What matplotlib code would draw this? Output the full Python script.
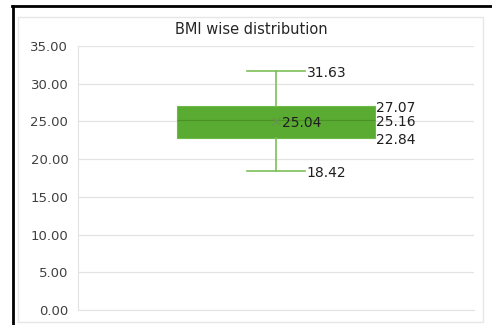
import matplotlib.pyplot as plt
from matplotlib.patches import Rectangle
from matplotlib.lines import Line2D

# BMI summary values
label = "BMI"
whisker_low = 18.42
q1 = 22.84
median = 25.16
q3 = 27.07
whisker_high = 31.63
mean = 25.04

y_ticks = [0, 5, 10, 15, 20, 25, 30, 35]

fig = plt.figure(figsize=(4.92, 3.25), dpi=100)

# outer black frame (top and left) and the light chart-area border
fig.add_artist(Line2D([12/492, 1], [1 - 5.5/325, 1 - 5.5/325], color='black', lw=2, transform=fig.transFigure))
fig.add_artist(Line2D([12.5/492, 12.5/492], [0, 1 - 5.5/325], color='black', lw=2, transform=fig.transFigure))
fig.add_artist(Rectangle((18/492, 3/325), (483-18)/492, (325-17-3)/325, fill=False,
                         edgecolor='#e6e6e6', lw=1, transform=fig.transFigure))

ax = fig.add_axes([78/492, 15/325, (474-78)/492, (310-46)/325])

stats = [dict(label=label, whislo=whisker_low, q1=q1, med=median, q3=q3,
              whishi=whisker_high, mean=mean, fliers=[])]
ax.bxp(stats, positions=[1], widths=0.5, capwidths=0.146, patch_artist=True,
       showmeans=True, showfliers=False,
       boxprops=dict(facecolor='#5aab32', edgecolor='#6dba48', lw=0.8),
       medianprops=dict(color='#4a9228', lw=0.8),
       whiskerprops=dict(color='#7cbf5a', lw=1.2),
       capprops=dict(color='#7cbf5a', lw=1.2),
       meanprops=dict(marker='x', markeredgecolor='#6a8f55', markersize=6, markeredgewidth=0.8))

fs = 10
kw = dict(ha='left', va='center_baseline', fontsize=fs, color='#1f1f1f')
ax.text(1.078, whisker_high, f"{whisker_high:.2f}", **kw)
ax.text(1.078, whisker_low, f"{whisker_low:.2f}", **kw)
ax.text(1.252, q3 - 0.15, f"{q3:.2f}", **kw)
ax.text(1.252, median - 0.1, f"{median:.2f}", **kw)
ax.text(1.252, q1 - 0.05, f"{q1:.2f}", **kw)
ax.text(1.015, mean, f"{mean:.2f}", **kw)

ax.set_xlim(0.5, 1.5)
ax.set_ylim(0, 35)
ax.set_yticks(y_ticks)
ax.set_yticklabels([f"{v:.2f}" for v in y_ticks], fontsize=9.5, color='#404040')
ax.set_xticks([])
ax.yaxis.grid(True, color='#e3e3e3', lw=0.9)
ax.set_axisbelow(True)
ax.tick_params(axis='y', length=0, pad=7)
for s in ['top', 'right']:
    ax.spines[s].set_visible(False)
ax.spines['left'].set_color('#e3e3e3')
ax.spines['bottom'].set_color('#e3e3e3')

fig.text(251/492, 1 - 30/325, "BMI wise distribution", ha='center', va='center', fontsize=10.5, color='#262626')

fig.savefig("out.png", dpi=100)
